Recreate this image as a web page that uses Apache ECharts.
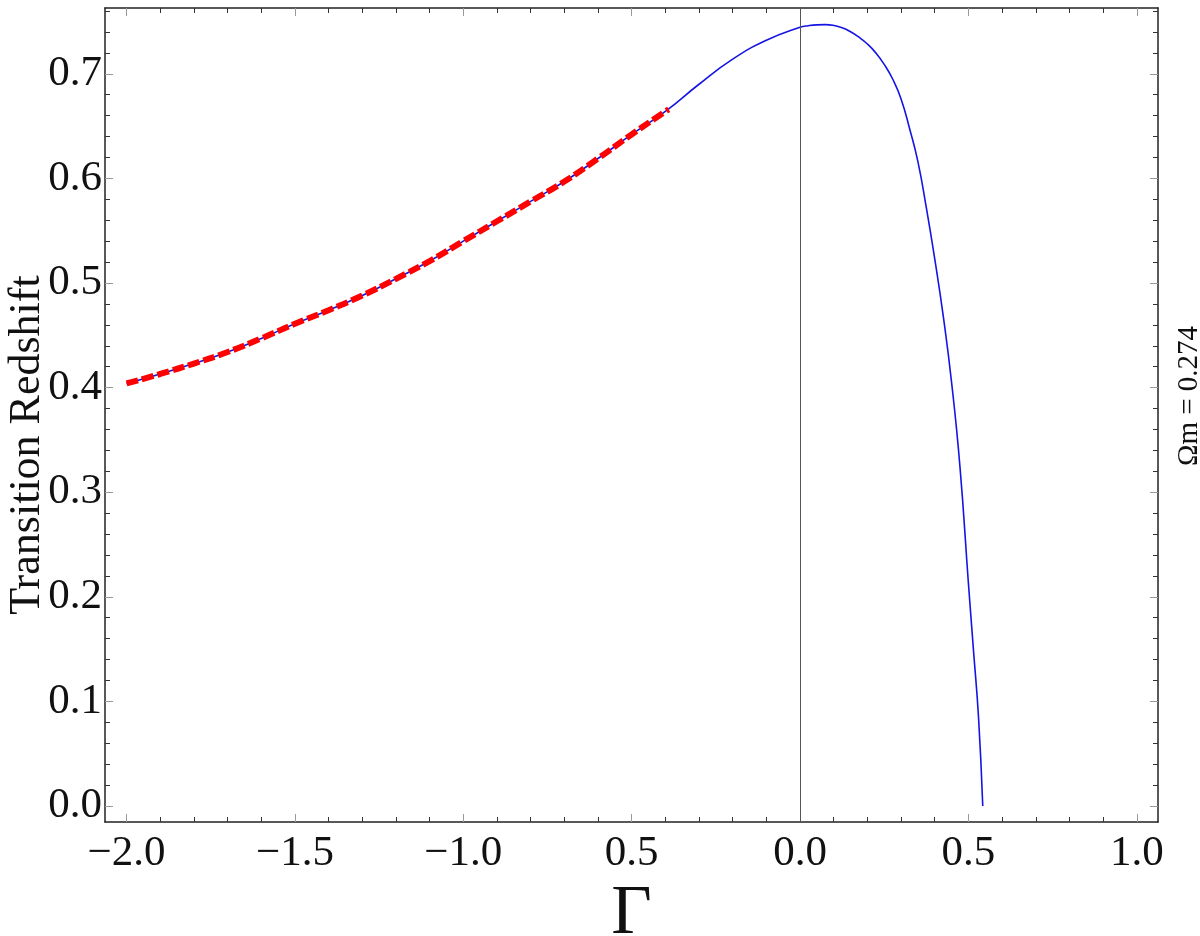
<!DOCTYPE html>
<html><head><meta charset="utf-8">
<script src="https://cdn.jsdelivr.net/npm/echarts@6/dist/echarts.min.js"></script>
<style>html,body{margin:0;padding:0;background:#fff}#c{width:1200px;height:936px}</style>
</head><body><div id="c"></div>
<script>
// Blue curve: transition redshift vs Gamma
const gammaValues = [-2.0,-1.9,-1.8,-1.7,-1.6,-1.5,-1.4,-1.3,-1.2,-1.1,-1.0,-0.9,-0.8,-0.7,-0.6,-0.5,-0.4,-0.3,-0.2,-0.1,0.0,0.025,0.05,0.075,0.1,0.125,0.15,0.175,0.2,0.225,0.25,0.275,0.3,0.325,0.35,0.375,0.4,0.425,0.45,0.475,0.5,0.515,0.53,0.5426];
const zTransition = [0.404,0.413,0.423,0.434,0.447,0.461,0.474,0.488,0.504,0.521,0.540,0.559,0.578,0.597,0.619,0.642,0.664,0.690,0.714,0.732,0.7445,0.746,0.7468,0.747,0.7462,0.744,0.7402,0.735,0.7285,0.720,0.709,0.695,0.676,0.648,0.616,0.572,0.523,0.469,0.405,0.324,0.213,0.149,0.085,0.0];
// Red dashed approximation
const fitGamma = [-2.0,-1.9,-1.8,-1.7,-1.6,-1.5,-1.4,-1.3,-1.2,-1.1,-1.0,-0.9,-0.8,-0.7,-0.6,-0.5,-0.4,-0.39];
const fitZ = [0.404,0.413,0.423,0.434,0.447,0.461,0.474,0.488,0.504,0.521,0.540,0.559,0.578,0.597,0.619,0.642,0.664,0.666];
// Ticks
const xMajorTicks = [-2.0,-1.5,-1.0,-0.5,0.0,0.5,1.0];
const xTickLabels = ['\u22122.0','\u22121.5','\u22121.0','0.5','0.0','0.5','1.0'];
const xMinorTicks = [-1.9,-1.8,-1.7,-1.6,-1.4,-1.3,-1.2,-1.1,-0.9,-0.8,-0.7,-0.6,-0.4,-0.3,-0.2,-0.1,0.1,0.2,0.3,0.4,0.6,0.7,0.8,0.9];
const yMajorTicks = [0.0,0.1,0.2,0.3,0.4,0.5,0.6,0.7];
const yTickLabels = ['0.0','0.1','0.2','0.3','0.4','0.5','0.6','0.7'];
const yMinorTicks = [0.02,0.04,0.06,0.08,0.12,0.14,0.16,0.18,0.22,0.24,0.26,0.28,0.32,0.34,0.36,0.38,0.42,0.44,0.46,0.48,0.52,0.54,0.56,0.58,0.62,0.64,0.66,0.68,0.72,0.74,0.76];
const xTitle = '\u0393';
const yTitle = 'Transition Redshift';
const sideNote = '\u03A9m = 0.274';

const FONT = '"Liberation Serif", "Times New Roman", Times, serif';
const X_MIN = -2.064, X_MAX = 1.063, Y_MIN = -0.0153, Y_MAX = 0.7629;

function nearestLabel(vals, labels, v) {
  let bi = 0, bd = Infinity;
  vals.forEach((t, i) => { const d = Math.abs(t - v); if (d < bd) { bd = d; bi = i; } });
  return labels[bi];
}

function xAxisDef(pos, ticks, major, withLabels) {
  return {
    type: 'value', position: pos, min: X_MIN, max: X_MAX,
    splitLine: {show: false},
    axisLine: {show: major, onZero: false, lineStyle: {color: '#222', width: 1.5}},
    axisTick: {show: true, inside: true, length: major ? 8 : 5, customValues: ticks,
               lineStyle: {color: major ? '#9a9a9a' : '#333', width: 1}},
    axisLabel: withLabels ? {show: true, customValues: xMajorTicks, margin: 10,
               fontFamily: FONT, fontSize: 43, color: '#111',
               formatter: v => nearestLabel(xMajorTicks, xTickLabels, v)} : {show: false},
    name: withLabels ? xTitle : '', nameLocation: 'middle', nameGap: 38,
    nameTextStyle: {fontFamily: FONT, fontSize: 70, color: '#111'}
  };
}
function yAxisDef(pos, ticks, major, withLabels) {
  return {
    type: 'value', position: pos, min: Y_MIN, max: Y_MAX,
    splitLine: {show: false},
    axisLine: {show: major, onZero: false, lineStyle: {color: '#222', width: 1.5}},
    axisTick: {show: true, inside: true, length: major ? 8 : 5, customValues: ticks,
               lineStyle: {color: major ? '#9a9a9a' : '#333', width: 1}},
    axisLabel: withLabels ? {show: true, customValues: yMajorTicks, margin: 3,
               fontFamily: FONT, fontSize: 43, color: '#111', padding: [0, 0, 16, 0],
               formatter: v => nearestLabel(yMajorTicks, yTickLabels, v)} : {show: false},
    name: withLabels ? yTitle : '', nameLocation: 'middle', nameGap: 56, nameMoveOverlap: false,
    nameTextStyle: {fontFamily: FONT, fontSize: 44, color: '#111', padding: [0, 60, 0, 0]}
  };
}

const chart = echarts.init(document.getElementById('c'), null, {renderer: 'canvas'});
chart.setOption({
  animation: false,
  backgroundColor: '#ffffff',
  textStyle: {fontFamily: FONT},
  grid: {left: 105, right: 42, top: 8, bottom: 114, containLabel: false, outerBoundsMode: 'none'},
  xAxis: [
    xAxisDef('bottom', xMajorTicks, true, true),
    xAxisDef('bottom', xMinorTicks, false, false),
    xAxisDef('top', xMajorTicks, true, false),
    xAxisDef('top', xMinorTicks, false, false)
  ],
  yAxis: [
    yAxisDef('left', yMajorTicks, true, true),
    yAxisDef('left', yMinorTicks, false, false),
    yAxisDef('right', yMajorTicks, true, false),
    yAxisDef('right', yMinorTicks, false, false)
  ],
  graphic: [{
    type: 'text', x: 1189, y: 396, rotation: Math.PI / 2,
    style: {text: sideNote, fontFamily: FONT, fontSize: 29, fill: '#111', align: 'center', verticalAlign: 'middle'}
  }],
  series: [
    {
      type: 'line', xAxisIndex: 0, yAxisIndex: 0,
      data: gammaValues.map((g, i) => [g, zTransition[i]]),
      showSymbol: false, smooth: 0.5,
      lineStyle: {color: '#1414e6', width: 1.6},
      markLine: {
        silent: true, symbol: 'none', label: {show: false},
        lineStyle: {color: '#555', width: 1, type: 'solid'},
        data: [{xAxis: 0}]
      },
      z: 2
    },
    {
      type: 'line', xAxisIndex: 0, yAxisIndex: 0,
      data: fitGamma.map((g, i) => [g, fitZ[i]]),
      showSymbol: false, smooth: 0.5,
      lineStyle: {color: '#ff0000', width: 6, type: [12, 4], cap: 'butt'},
      z: 3
    }
  ]
});
</script></body></html>
